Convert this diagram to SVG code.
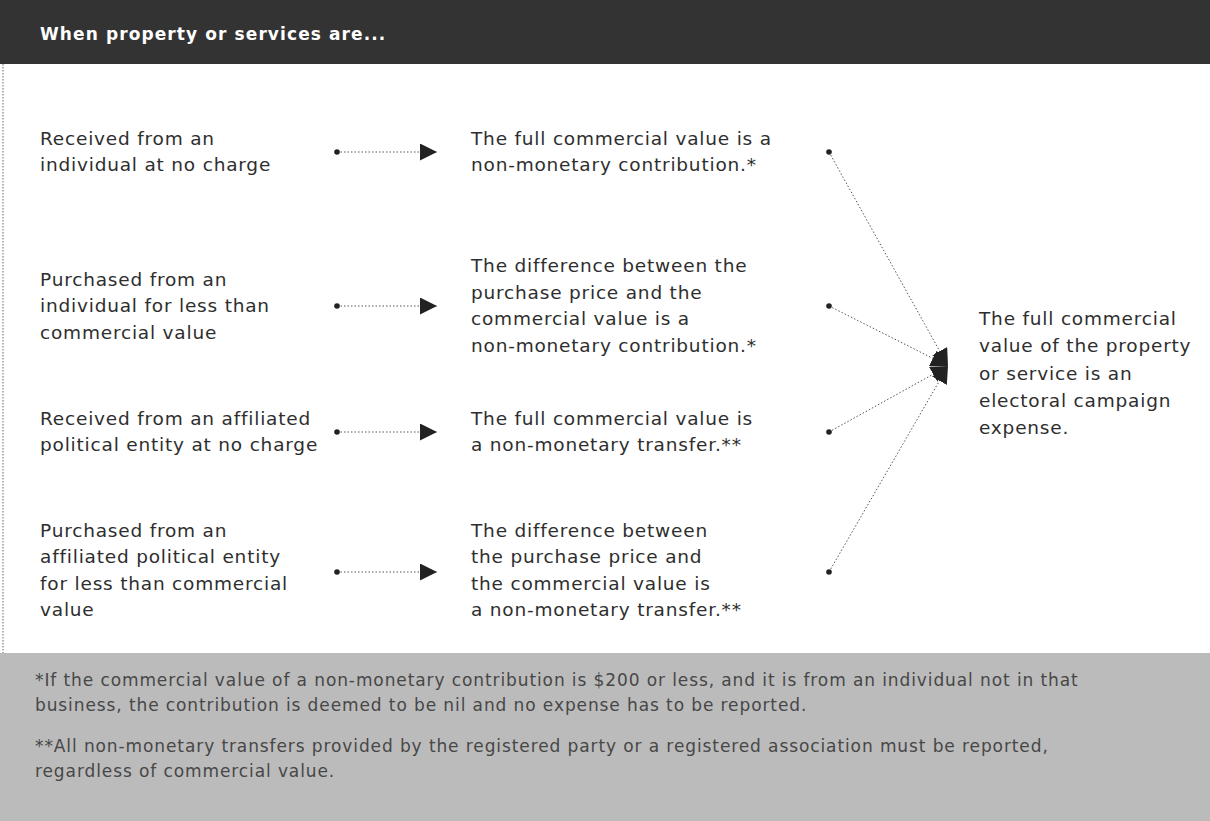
<svg xmlns="http://www.w3.org/2000/svg" width="1210" height="821" viewBox="0 0 1210 821">
<style>
.t{font-family:"DejaVu Sans","Liberation Sans",sans-serif;font-size:18.5px;letter-spacing:0.8px;fill:#2e2e2e;}
.h{font-family:"DejaVu Sans","Liberation Sans",sans-serif;font-size:17px;letter-spacing:1.1px;font-weight:bold;fill:#ffffff;}
.f{font-family:"DejaVu Sans","Liberation Sans",sans-serif;font-size:17px;letter-spacing:0.9px;fill:#474747;}
.dl{stroke:#555;stroke-width:1;stroke-dasharray:1.5 2;fill:none;}
.dot{fill:#222;}
</style>
<defs>
<marker id="ah" viewBox="0 0 10 10" refX="10" refY="5" markerWidth="17" markerHeight="17" markerUnits="userSpaceOnUse" orient="auto">
<path d="M0,0 L10,5 L0,10 z" fill="#222"/>
</marker>
</defs>
<rect width="1210" height="821" fill="#ffffff"/>
<g id="header">
<rect x="0" y="0" width="1210" height="64" fill="#333333"/>
<text class="h" x="40" y="40">When property or services are...</text>
</g>
<line x1="3" y1="64" x2="3" y2="653" stroke="#666" stroke-width="1" stroke-dasharray="1.5 1.5"/>
<g id="source1"><text class="t" x="40" y="145">Received from an</text><text class="t" x="40" y="171">individual at no charge</text></g>
<g id="source2"><text class="t" x="40" y="286">Purchased from an</text><text class="t" x="40" y="312">individual for less than</text><text class="t" x="40" y="339">commercial value</text></g>
<g id="source3"><text class="t" x="40" y="425">Received from an affiliated</text><text class="t" x="40" y="451">political entity at no charge</text></g>
<g id="source4"><text class="t" x="40" y="537">Purchased from an</text><text class="t" x="40" y="563">affiliated political entity</text><text class="t" x="40" y="590">for less than commercial</text><text class="t" x="40" y="616">value</text></g>
<g id="result1"><text class="t" x="471" y="145">The full commercial value is a</text><text class="t" x="471" y="171">non-monetary contribution.*</text></g>
<g id="result2"><text class="t" x="471" y="272">The difference between the</text><text class="t" x="471" y="299">purchase price and the</text><text class="t" x="471" y="325">commercial value is a</text><text class="t" x="471" y="352">non-monetary contribution.*</text></g>
<g id="result3"><text class="t" x="471" y="425">The full commercial value is</text><text class="t" x="471" y="451">a non-monetary transfer.**</text></g>
<g id="result4"><text class="t" x="471" y="537">The difference between</text><text class="t" x="471" y="563">the purchase price and</text><text class="t" x="471" y="590">the commercial value is</text><text class="t" x="471" y="616">a non-monetary transfer.**</text></g>
<g id="expense"><text class="t" x="979" y="325">The full commercial</text><text class="t" x="979" y="352">value of the property</text><text class="t" x="979" y="380">or service is an</text><text class="t" x="979" y="407">electoral campaign</text><text class="t" x="979" y="434">expense.</text></g>
<g id="connectors">
<line class="dl" x1="337" y1="152" x2="437" y2="152" marker-end="url(#ah)"/>
<line class="dl" x1="337" y1="306" x2="437" y2="306" marker-end="url(#ah)"/>
<line class="dl" x1="337" y1="432" x2="437" y2="432" marker-end="url(#ah)"/>
<line class="dl" x1="337" y1="572" x2="437" y2="572" marker-end="url(#ah)"/>
<circle class="dot" cx="337" cy="152" r="2.8"/>
<circle class="dot" cx="337" cy="306" r="2.8"/>
<circle class="dot" cx="337" cy="432" r="2.8"/>
<circle class="dot" cx="337" cy="572" r="2.8"/>
<line class="dl" x1="829" y1="152" x2="948" y2="366" marker-end="url(#ah)"/>
<line class="dl" x1="829" y1="306" x2="948" y2="366" marker-end="url(#ah)"/>
<line class="dl" x1="829" y1="432" x2="948" y2="366" marker-end="url(#ah)"/>
<line class="dl" x1="829" y1="572" x2="948" y2="366" marker-end="url(#ah)"/>
<circle class="dot" cx="829" cy="152" r="2.8"/>
<circle class="dot" cx="829" cy="306" r="2.8"/>
<circle class="dot" cx="829" cy="432" r="2.8"/>
<circle class="dot" cx="829" cy="572" r="2.8"/>
</g>
<g id="footer">
<rect x="0" y="653" width="1210" height="168" fill="#bbbbbb"/>
<text class="f" x="35" y="686">*If the commercial value of a non-monetary contribution is $200 or less, and it is from an individual not in that</text>
<text class="f" x="35" y="711">business, the contribution is deemed to be nil and no expense has to be reported.</text>
<text class="f" x="35" y="752">**All non-monetary transfers provided by the registered party or a registered association must be reported,</text>
<text class="f" x="35" y="777">regardless of commercial value.</text>
</g>
</svg>
